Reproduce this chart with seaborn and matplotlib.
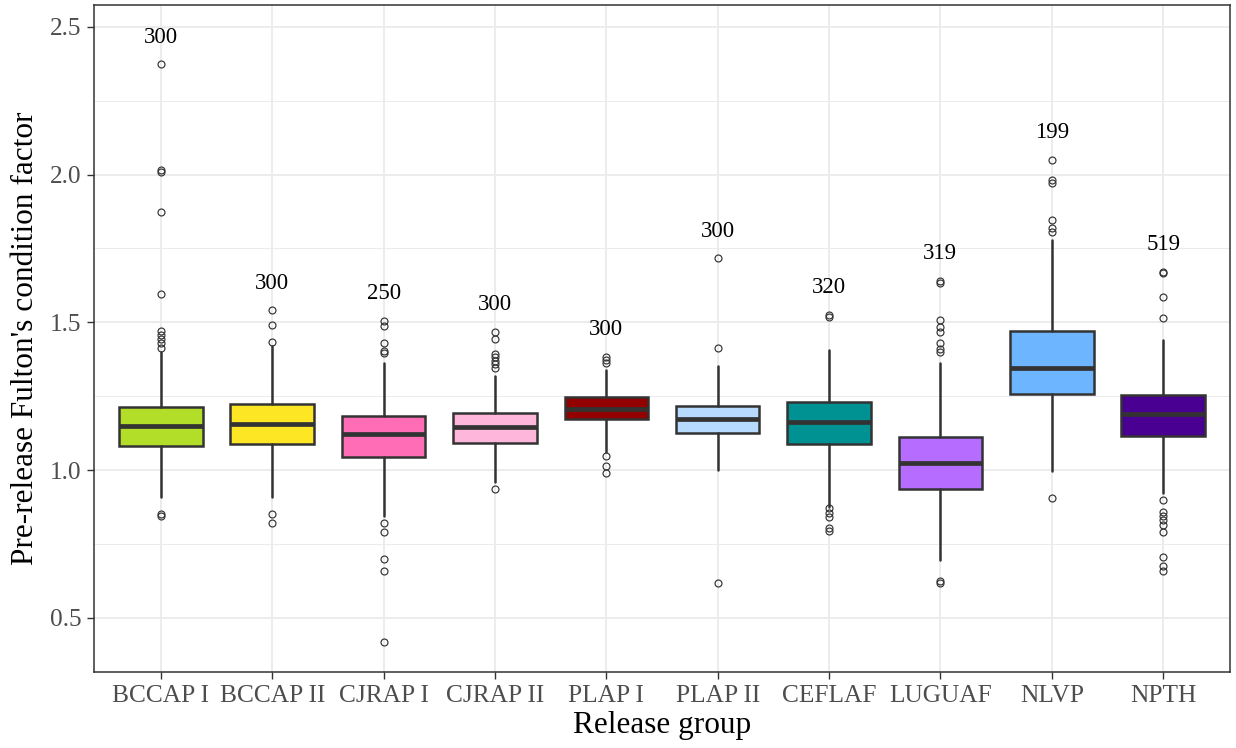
import matplotlib
matplotlib.use("Agg")
import matplotlib.pyplot as plt
from matplotlib.ticker import MultipleLocator
import seaborn as sns

# Release groups and group sizes
groups = ["BCCAP I", "BCCAP II", "CJRAP I", "CJRAP II", "PLAP I",
          "PLAP II", "CEFLAF", "LUGUAF", "NLVP", "NPTH"]
counts = [300, 300, 250, 300, 300, 300, 320, 319, 199, 519]

# Box summary statistics of Fulton's condition factor per group
whisker_low = [0.908, 0.910, 0.844, 0.960, 1.062, 1.000, 0.876, 0.694, 0.996, 0.923]
quartile_1 = [1.082, 1.089, 1.045, 1.090, 1.172, 1.127, 1.087, 0.936, 1.257, 1.115]
medians = [1.149, 1.157, 1.123, 1.147, 1.205, 1.173, 1.163, 1.024, 1.345, 1.188]
quartile_3 = [1.212, 1.224, 1.182, 1.192, 1.248, 1.218, 1.231, 1.113, 1.469, 1.253]
whisker_high = [1.400, 1.421, 1.363, 1.318, 1.338, 1.352, 1.406, 1.363, 1.779, 1.439]

# Outlying fish per group
outliers = [
    [2.373, 2.015, 2.010, 1.872, 1.595, 1.471, 1.457, 1.442, 1.429, 1.412, 0.850, 0.845],
    [1.540, 1.491, 1.432, 0.850, 0.822],
    [1.505, 1.487, 1.431, 1.403, 1.395, 0.820, 0.789, 0.699, 0.659, 0.419],
    [1.467, 1.444, 1.393, 1.381, 1.369, 1.358, 1.345, 0.937],
    [1.383, 1.372, 1.363, 1.047, 1.015, 0.989],
    [1.717, 1.413, 0.617],
    [1.525, 1.517, 0.870, 0.853, 0.842, 0.803, 0.794],
    [1.640, 1.632, 1.507, 1.483, 1.467, 1.429, 1.410, 1.398, 0.625, 0.619],
    [2.049, 1.982, 1.973, 1.848, 1.819, 1.806, 0.904],
    [1.672, 1.666, 1.586, 1.515, 0.898, 0.858, 0.845, 0.832, 0.814, 0.789,
     0.707, 0.675, 0.659],
]

fill_colors = ["#B2DE2A", "#FDE725", "#FF6DB6", "#FFB6DB", "#920000",
               "#B6DBFF", "#009292", "#B66DFF", "#6DB6FF", "#490092"]

sns.set_theme(style="whitegrid")
plt.rcParams["font.family"] = ["Liberation Serif", "DejaVu Serif"]

fig = plt.figure(figsize=(12.36, 7.48), dpi=100)
ax = fig.add_axes([0.0761, 0.1016, 0.9190, 0.8917])

stats = []
for i, g in enumerate(groups):
    stats.append(dict(label=g, whislo=whisker_low[i], q1=quartile_1[i],
                      med=medians[i], q3=quartile_3[i], whishi=whisker_high[i],
                      fliers=outliers[i]))

line_col = "#333333"
positions = list(range(len(groups)))
bp = ax.bxp(stats, positions=positions, widths=0.75, patch_artist=True,
            showcaps=False,
            boxprops=dict(edgecolor=line_col, linewidth=1.8),
            whiskerprops=dict(color=line_col, linewidth=1.8),
            medianprops=dict(color=line_col, linewidth=3.4, solid_capstyle="butt"),
            flierprops=dict(marker="o", markersize=5.0, markerfacecolor="none",
                            markeredgecolor=line_col, markeredgewidth=0.85,
                            linestyle="none"),
            zorder=3)
for patch, col in zip(bp["boxes"], fill_colors):
    patch.set_facecolor(col)

# Group sizes written just above each group's highest point
for i, n in enumerate(counts):
    top = max([whisker_high[i]] + outliers[i])
    ax.text(positions[i], top + 0.092, str(n), ha="center", va="center",
            fontsize=16.5, color="black", zorder=4)

ax.set_xlim(-0.6, len(groups) - 0.4)
ax.set_ylim(0.3164, 2.574)
ax.yaxis.set_major_locator(MultipleLocator(0.5))
ax.yaxis.set_minor_locator(MultipleLocator(0.25))
ax.set_xticks(positions)
ax.set_xticklabels(groups)

ax.grid(which="major", color="#EBEBEB", linewidth=1.3)
ax.grid(which="minor", axis="y", color="#EBEBEB", linewidth=0.7)
ax.set_axisbelow(True)
ax.set_facecolor("white")
for s in ax.spines.values():
    s.set_color(line_col)
    s.set_linewidth(1.1)

ax.tick_params(axis="both", which="major", length=5, width=1.0, color=line_col,
               labelsize=18.3, labelcolor="#4D4D4D", pad=4, bottom=True, left=True)
ax.tick_params(axis="y", which="minor", length=0)

ax.set_xlabel("Release group", fontsize=22.5, color="black", labelpad=3)
ax.set_ylabel("Pre-release Fulton's condition factor", fontsize=22.5,
              color="black", labelpad=7)

fig.savefig("out.png", dpi=100)
